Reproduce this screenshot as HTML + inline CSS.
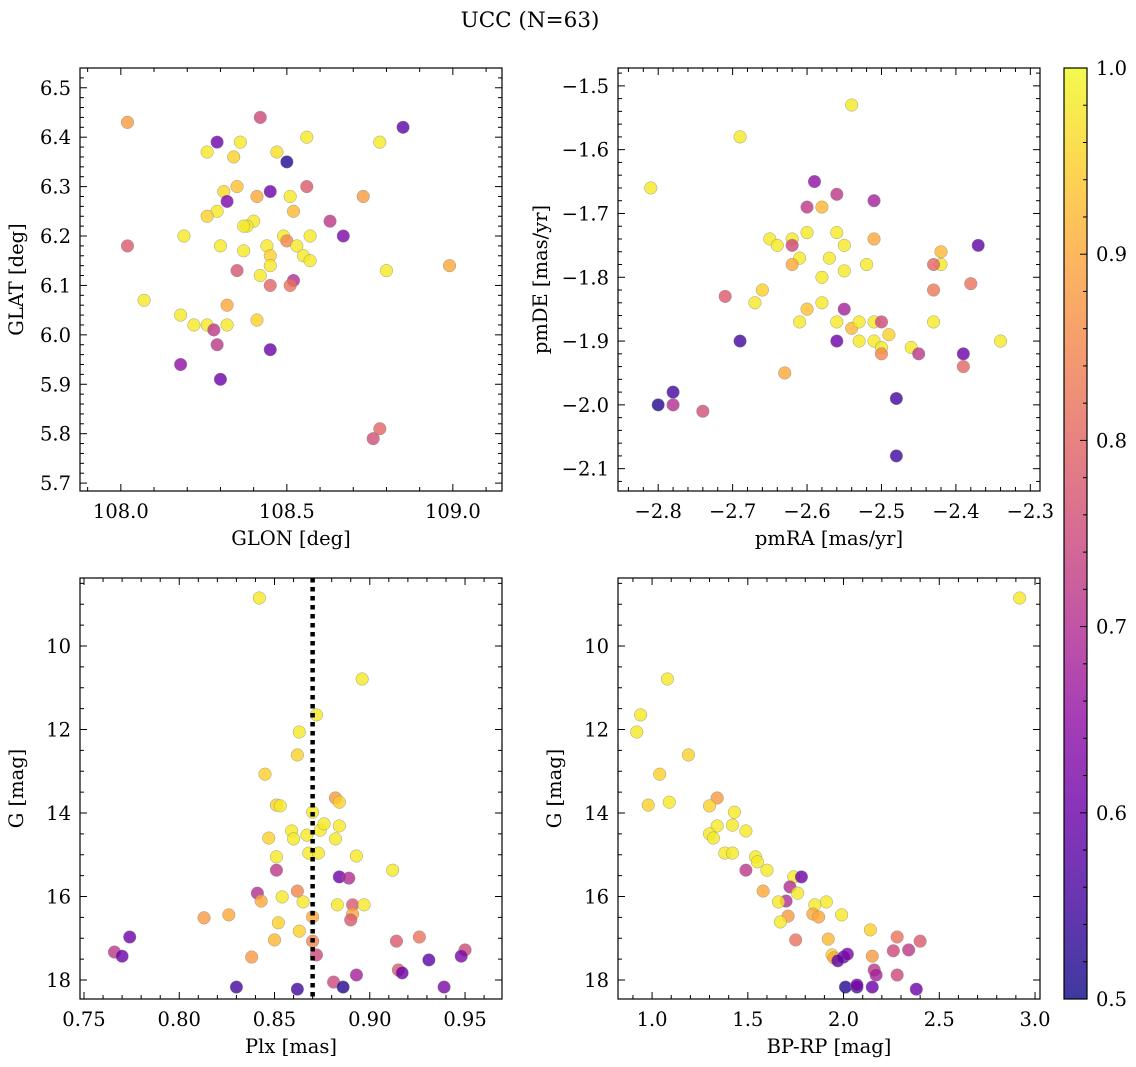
<!DOCTYPE html>
<html><head><meta charset="utf-8"><style>
html,body{margin:0;padding:0;background:#fff;}
svg, svg text{font-family:"DejaVu Serif","Liberation Serif",serif;}
svg{display:block;}
</style></head><body>
<svg id="fig" width="1136" height="1067" viewBox="0 0 1136 1067" xmlns="http://www.w3.org/2000/svg">
<text x="530" y="27" font-size="21.5" font-family="DejaVu Serif, Liberation Serif, serif" text-anchor="middle">UCC (N=63)</text>
<defs><linearGradient id="cbgrad" x1="0" y1="1" x2="0" y2="0"></linearGradient></defs>
</svg>
<script>
// ---------- Panel 1 data: GLON / GLAT ----------
const glon = [108.02,108.42,108.29,108.85,108.56,108.26,108.36,108.47,108.34,108.50,108.78,108.31,108.35,108.45,108.56,108.51,108.32,108.29,108.73,108.41,108.52,108.26,108.40,108.38,108.37,108.63,108.19,108.49,108.57,108.67,108.02,108.30,108.44,108.50,108.53,108.37,108.45,108.55,108.57,108.45,108.80,108.99,108.35,108.42,108.52,108.45,108.51,108.07,108.32,108.18,108.22,108.26,108.32,108.41,108.28,108.29,108.45,108.18,108.30,108.78,108.76];
const glat = [6.43,6.44,6.39,6.42,6.40,6.37,6.39,6.37,6.36,6.35,6.39,6.29,6.30,6.29,6.30,6.28,6.27,6.25,6.28,6.28,6.25,6.24,6.23,6.22,6.22,6.23,6.20,6.20,6.20,6.20,6.18,6.18,6.18,6.19,6.18,6.17,6.16,6.16,6.15,6.14,6.13,6.14,6.13,6.12,6.11,6.10,6.10,6.07,6.06,6.04,6.02,6.02,6.02,6.03,6.01,5.98,5.97,5.94,5.91,5.81,5.79];
const c1 = [0.88,0.75,0.6,0.58,0.98,0.98,0.98,0.97,0.95,0.52,0.98,0.96,0.93,0.6,0.78,0.98,0.62,0.98,0.88,0.9,0.92,0.95,0.98,0.98,0.98,0.72,0.98,0.98,0.98,0.62,0.78,0.98,0.98,0.85,0.98,0.98,0.95,0.98,0.98,0.98,0.98,0.9,0.77,0.98,0.7,0.8,0.82,0.98,0.9,0.98,0.98,0.98,0.98,0.95,0.72,0.72,0.6,0.65,0.6,0.8,0.76];
// ---------- Panel 2 data: pmRA / pmDE ----------
const pmra = [-2.54,-2.69,-2.81,-2.59,-2.56,-2.60,-2.51,-2.58,-2.65,-2.64,-2.62,-2.60,-2.56,-2.55,-2.51,-2.62,-2.61,-2.62,-2.57,-2.55,-2.58,-2.52,-2.42,-2.42,-2.43,-2.37,-2.66,-2.71,-2.43,-2.38,-2.67,-2.58,-2.55,-2.60,-2.61,-2.56,-2.54,-2.53,-2.51,-2.50,-2.53,-2.51,-2.50,-2.49,-2.43,-2.46,-2.50,-2.45,-2.39,-2.34,-2.69,-2.56,-2.39,-2.63,-2.78,-2.78,-2.80,-2.74,-2.48,-2.48];
const pmde = [-1.53,-1.58,-1.66,-1.65,-1.67,-1.69,-1.68,-1.69,-1.74,-1.75,-1.74,-1.73,-1.73,-1.75,-1.74,-1.75,-1.77,-1.78,-1.77,-1.79,-1.80,-1.78,-1.76,-1.78,-1.78,-1.75,-1.82,-1.83,-1.82,-1.81,-1.84,-1.84,-1.85,-1.85,-1.87,-1.87,-1.88,-1.87,-1.87,-1.87,-1.90,-1.90,-1.91,-1.89,-1.87,-1.91,-1.92,-1.92,-1.92,-1.90,-1.90,-1.90,-1.94,-1.95,-1.98,-2.00,-2.00,-2.01,-1.99,-2.08];
const c2 = [0.98,0.98,0.98,0.65,0.72,0.72,0.68,0.92,0.98,0.98,0.98,0.98,0.98,0.98,0.9,0.75,0.98,0.9,0.98,0.98,0.98,0.98,0.92,0.98,0.8,0.58,0.95,0.78,0.83,0.82,0.98,0.98,0.68,0.93,0.98,0.98,0.92,0.98,0.98,0.75,0.98,0.98,0.98,0.95,0.98,0.98,0.85,0.72,0.6,0.98,0.55,0.6,0.8,0.9,0.55,0.7,0.52,0.76,0.55,0.55];
// ---------- Panel 3 data: Plx / G ----------
const plx = [0.842,0.896,0.872,0.863,0.862,0.845,0.882,0.884,0.851,0.853,0.870,0.847,0.859,0.860,0.867,0.874,0.876,0.884,0.882,0.868,0.873,0.851,0.893,0.912,0.851,0.884,0.889,0.841,0.862,0.843,0.854,0.865,0.883,0.891,0.897,0.891,0.890,0.813,0.826,0.852,0.870,0.863,0.850,0.870,0.774,0.766,0.770,0.914,0.926,0.950,0.948,0.872,0.915,0.917,0.893,0.931,0.838,0.830,0.862,0.881,0.886,0.939];
const g3 = [8.85,10.79,11.65,12.06,12.61,13.07,13.64,13.74,13.81,13.83,13.98,14.60,14.43,14.62,14.53,14.41,14.26,14.31,14.62,14.96,14.96,15.05,15.03,15.37,15.37,15.53,15.56,15.92,15.87,16.11,16.01,16.13,16.20,16.20,16.20,16.42,16.56,16.51,16.44,16.63,16.49,16.83,17.04,17.07,16.97,17.33,17.43,17.07,16.97,17.28,17.43,17.40,17.76,17.83,17.88,17.52,17.45,18.17,18.22,18.05,18.17,18.17];
const c3 = [0.98,0.98,0.98,0.98,0.95,0.95,0.88,0.95,0.95,0.98,0.98,0.95,0.98,0.98,0.98,0.98,0.98,0.98,0.98,0.98,0.98,0.98,0.98,0.98,0.72,0.6,0.7,0.7,0.85,0.9,0.98,0.98,0.98,0.78,0.98,0.9,0.78,0.88,0.9,0.95,0.9,0.95,0.92,0.85,0.6,0.72,0.6,0.78,0.82,0.75,0.62,0.75,0.78,0.6,0.68,0.58,0.88,0.55,0.55,0.75,0.52,0.62];
const plxMedian = 0.870;
// ---------- Panel 4 data: BP-RP / G ----------
const bprp = [2.92,1.08,0.94,0.92,1.19,1.04,1.34,1.09,0.98,1.30,1.43,1.34,1.42,1.49,1.30,1.32,1.38,1.42,1.54,1.55,1.49,1.60,1.74,1.78,1.72,1.76,1.58,1.70,1.66,1.91,1.85,1.84,1.87,1.71,1.67,1.99,2.14,1.92,1.75,2.28,2.40,1.94,2.26,2.34,1.95,2.00,2.02,1.97,2.15,2.16,2.17,2.28,2.01,2.07,2.15,2.38,2.07];
const g4 = [8.85,10.79,11.65,12.06,12.61,13.07,13.64,13.74,13.81,13.83,13.98,14.31,14.29,14.43,14.50,14.60,14.96,14.96,15.05,15.17,15.37,15.37,15.53,15.53,15.77,15.92,15.87,16.11,16.13,16.13,16.20,16.42,16.49,16.47,16.61,16.44,16.80,17.02,17.04,16.97,17.07,17.40,17.30,17.28,17.47,17.45,17.38,17.54,17.43,17.76,17.88,17.88,18.17,18.17,18.17,18.22,18.12];
const c4 = [0.98,0.98,0.98,0.98,0.95,0.95,0.88,0.98,0.95,0.95,0.98,0.98,0.98,0.98,0.98,0.98,0.98,0.98,0.98,0.98,0.72,0.98,0.98,0.6,0.7,0.98,0.9,0.7,0.98,0.98,0.98,0.9,0.9,0.88,0.98,0.98,0.95,0.92,0.82,0.82,0.78,0.95,0.75,0.72,0.9,0.6,0.62,0.58,0.88,0.72,0.68,0.75,0.52,0.55,0.6,0.6,0.62];
// ---------- tick labels ----------
const xt1 = [108.0,108.5,109.0], xt1L = ["108.0","108.5","109.0"];
const yt1 = [5.7,5.8,5.9,6.0,6.1,6.2,6.3,6.4,6.5], yt1L = ["5.7","5.8","5.9","6.0","6.1","6.2","6.3","6.4","6.5"];
const xt2 = [-2.8,-2.7,-2.6,-2.5,-2.4,-2.3], xt2L = ["\u22122.8","\u22122.7","\u22122.6","\u22122.5","\u22122.4","\u22122.3"];
const yt2 = [-2.1,-2.0,-1.9,-1.8,-1.7,-1.6,-1.5], yt2L = ["\u22122.1","\u22122.0","\u22121.9","\u22121.8","\u22121.7","\u22121.6","\u22121.5"];
const xt3 = [0.75,0.80,0.85,0.90,0.95], xt3L = ["0.75","0.80","0.85","0.90","0.95"];
const ytG = [10,12,14,16,18], ytGL = ["10","12","14","16","18"];
const xt4 = [1.0,1.5,2.0,2.5,3.0], xt4L = ["1.0","1.5","2.0","2.5","3.0"];
const cbT = [0.5,0.6,0.7,0.8,0.9,1.0], cbTL = ["0.5","0.6","0.7","0.8","0.9","1.0"];

const FS = 19.5;
const FF = "DejaVu Serif, Liberation Serif, serif";
const NS = "http://www.w3.org/2000/svg";
const svg = document.getElementById('fig');
function mk(tag, attrs, parent){const e=document.createElementNS(NS,tag);for(const k in attrs)e.setAttribute(k,attrs[k]);if(tag==='text')e.setAttribute('font-family',FF);(parent||svg).appendChild(e);return e;}
const stops=[[0,[13,8,135]],[0.1,[65,4,157]],[0.2,[106,0,168]],[0.3,[143,13,164]],[0.4,[177,42,144]],[0.5,[204,71,120]],[0.6,[225,100,98]],[0.7,[242,132,75]],[0.8,[252,166,54]],[0.9,[252,206,37]],[1,[240,249,33]]];
function plasma(t){t=Math.max(0,Math.min(1,t));for(let i=1;i<stops.length;i++){if(t<=stops[i][0]){const a=stops[i-1],b=stops[i];const f=(t-a[0])/(b[0]-a[0]);const c=a[1].map((v,j)=>Math.round(v+(b[1][j]-v)*f));return `rgb(${c[0]},${c[1]},${c[2]})`;}}return 'rgb(240,249,33)';}
const cmap = v => plasma((v-0.5)/0.5);

function panel(o){
  const g=mk('g',{});
  
  
  const sx=v=>o.x0+(v-o.xd[0])/(o.xd[1]-o.xd[0])*(o.x1-o.x0);
  const sy=v=>o.y0+(v-o.yd[0])/(o.yd[1]-o.yd[0])*(o.y1-o.y0);
  for(let i=0;i<o.xs.length;i++){
    const c=mk('circle',{cx:sx(o.xs[i]),cy:sy(o.ys[i]),r:6.3,fill:cmap(o.cs[i]),'fill-opacity':0.8,stroke:'#888','stroke-width':0.5,'stroke-opacity':0.8},g);
    
    
  }
  if(o.vline!==undefined){
    const l=mk('line',{x1:sx(o.vline),x2:sx(o.vline),y1:o.y0,y2:o.y1,stroke:'#000','stroke-width':4.5,'stroke-dasharray':'4.5 4.5'},g);
    
    
  }
  const fr=mk('rect',{x:o.x0,y:o.y0,width:o.x1-o.x0,height:o.y1-o.y0,fill:'none',stroke:'#000','stroke-width':1.2},g);
  
  
  const yb=Math.max(o.y0,o.y1), yt=Math.min(o.y0,o.y1);
  const xlo=Math.min(...o.xd), xhi=Math.max(...o.xd);
  for(let k=Math.ceil(xlo/o.xmin-1e-6);k*o.xmin<=xhi+1e-9;k++){
    const v=k*o.xmin, X=sx(v);
    const maj=o.xt.some(t=>Math.abs(t-v)<o.xmin/10);
    const L=maj?7:4;
    mk('line',{x1:X,x2:X,y1:yb,y2:yb-L,stroke:'#000','stroke-width':1},g);
    mk('line',{x1:X,x2:X,y1:yt,y2:yt+L,stroke:'#000','stroke-width':1},g);
  }
  o.xt.forEach((v,i)=>{const t=mk('text',{x:sx(v),y:yb+27,'font-size':FS,'text-anchor':'middle'},g);t.textContent=o.xtl[i];
    
    });
  const ylo=Math.min(...o.yd), yhi=Math.max(...o.yd);
  for(let k=Math.ceil(ylo/o.ymin-1e-6);k*o.ymin<=yhi+1e-9;k++){
    const v=k*o.ymin, Y=sy(v);
    const maj=o.yt.some(t=>Math.abs(t-v)<o.ymin/10);
    const L=maj?7:4;
    mk('line',{x1:o.x0,x2:o.x0+L,y1:Y,y2:Y,stroke:'#000','stroke-width':1},g);
    mk('line',{x1:o.x1,x2:o.x1-L,y1:Y,y2:Y,stroke:'#000','stroke-width':1},g);
  }
  o.yt.forEach((v,i)=>{const t=mk('text',{x:o.x0-9,y:sy(v)+7,'font-size':FS,'text-anchor':'end'},g);t.textContent=o.ytl[i];
    
    });
  const xl=mk('text',{x:(o.x0+o.x1)/2,y:yb+54,'font-size':FS,'text-anchor':'middle'},g);xl.textContent=o.xlabel;
  
  
  const ylx=o.x0-o.yoff, yly=(o.y0+o.y1)/2;
  const yl=mk('text',{x:ylx,y:yly,'font-size':FS,'text-anchor':'middle',transform:`rotate(-90 ${ylx} ${yly})`},g);yl.textContent=o.ylabel;
  
  
}
panel({name:'glon-glat-panel',x0:80,x1:502,y0:68,y1:491,xd:[107.877,109.148],yd:[6.540,5.684],xs:glon,ys:glat,cs:c1,xt:xt1,xtl:xt1L,xmin:0.1,yt:yt1,ytl:yt1L,ymin:0.02,xlabel:'GLON [deg]',ylabel:'GLAT [deg]',yoff:57});
panel({name:'pm-panel',x0:618,x1:1040,y0:68,y1:491,xd:[-2.854,-2.287],yd:[-1.472,-2.135],xs:pmra,ys:pmde,cs:c2,xt:xt2,xtl:xt2L,xmin:0.02,yt:yt2,ytl:yt2L,ymin:0.02,xlabel:'pmRA [mas/yr]',ylabel:'pmDE [mas/yr]',yoff:71});
panel({name:'plx-g-panel',x0:80,x1:502,y0:578,y1:999,xd:[0.7479,0.9694],yd:[8.371,18.455],xs:plx,ys:g3,cs:c3,xt:xt3,xtl:xt3L,xmin:0.01,yt:ytG,ytl:ytGL,ymin:0.5,xlabel:'Plx [mas]',ylabel:'G [mag]',vline:plxMedian,yoff:57});
panel({name:'cmd-panel',x0:618,x1:1040,y0:578,y1:999,xd:[0.822,3.026],yd:[8.371,18.455],xs:bprp,ys:g4,cs:c4,xt:xt4,xtl:xt4L,xmin:0.1,yt:ytG,ytl:ytGL,ymin:0.5,xlabel:'BP-RP [mag]',ylabel:'G [mag]',yoff:57});

const grad=document.getElementById('cbgrad');
stops.forEach(s=>mk('stop',{offset:s[0],'stop-color':`rgb(${s[1].join(',')})`,'stop-opacity':0.8},grad));
const cb=mk('g',{});


mk('rect',{x:1064,y:68,width:23,height:931,fill:'url(#cbgrad)',stroke:'#000','stroke-width':1.2},cb);
const cy=v=>999-(v-0.5)/0.5*931;
for(let k=25;k<=50;k++){const v=k*0.02;const Y=cy(v);const maj=(k%5===0);
  mk('line',{x1:1087,x2:1087-(maj?7:4),y1:Y,y2:Y,stroke:'#000','stroke-width':1},cb);}
cbT.forEach((v,i)=>{const t=mk('text',{x:1096,y:cy(v)+7,'font-size':FS},cb);t.textContent=cbTL[i];
  
  });
</script>
</body></html>
